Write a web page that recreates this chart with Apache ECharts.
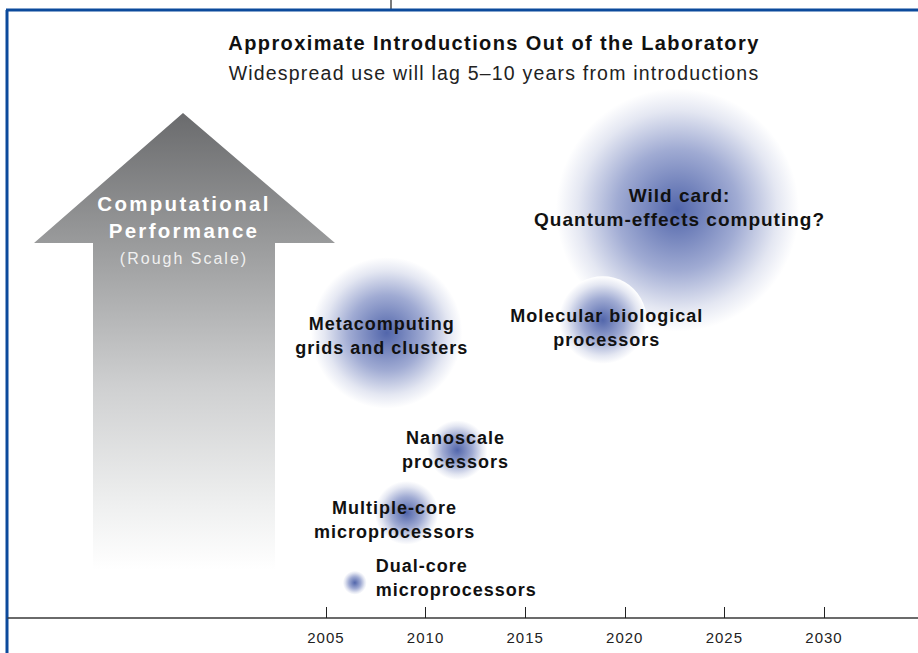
<!DOCTYPE html>
<html>
<head>
    <meta charset="UTF-8">
    <title></title>
    <script type="text/javascript" src="https://cdn.jsdelivr.net/npm/echarts@6/dist/echarts.min.js"></script>
    <style>
        html, body { margin: 0; padding: 0; background: #fff; }
        #main { width: 918px; height: 653px; }
        #main text { letter-spacing: 1px; }
        #main text[style*="bold 20px"] { letter-spacing: 1.4px; }
        #main text[style*="bold 20.5px"] { letter-spacing: 2.3px; }
        #main text[style*="19.5px"] { letter-spacing: 1.2px; }
        #main text[style*="bold 19px"] { letter-spacing: 1.7px; }
        #main text[style*="bold 18px"] { letter-spacing: 1.3px; }
        #main text[style*=" 16px"] { letter-spacing: 2px; }
    </style>
</head>
<body>
<div id="main"></div>
<script>
    // technologies, year of introduction, rough performance level, spread (years)
    var names = [
        'Wild card:\nQuantum-effects computing?',
        'Molecular biological\nprocessors',
        'Metacomputing\ngrids and clusters',
        'Nanoscale\nprocessors',
        'Multiple-core\nmicroprocessors',
        'Dual-core\nmicroprocessors'
    ];
    var years = [2022.65, 2018.9, 2008.05, 2011.6, 2009.05, 2006.45];
    var performance = [67.1, 49.0, 46.9, 27.6, 17.3, 5.8];
    var spread = [6.1, 2.2, 3.8, 1.5, 1.6, 0.6];
    var tickYears = [2005, 2010, 2015, 2020, 2025, 2030];

    var xMin = 1989.04, xMax = 2034.72;
    var gridLeft = 8, gridRight = 0;
    var pxPerYear = (918 - gridLeft - gridRight) / (xMax - xMin);

    // label placement per bubble
    var labelPlace = [
        {position: 'inside', offset: [2, -3], size: 19},
        {position: 'inside', offset: [4, 8]},
        {position: 'inside', offset: [-5, 3]},
        {position: 'inside', offset: [-2, 0]},
        {position: 'inside', offset: [-12, 7]},
        {position: 'right', distance: 9, offset: [0, -5]}
    ];

    var bubbleFill = {
        type: 'radial', x: 0.5, y: 0.5, r: 0.5,
        colorStops: [
            {offset: 0, color: '#5266ab'},
            {offset: 0.5, color: '#a0abd3'},
            {offset: 0.82, color: '#e4e7f2'},
            {offset: 1, color: '#ffffff'}
        ]
    };

    var data = [];
    for (var i = 0; i < names.length; i++) {
        var lp = labelPlace[i];
        data.push({
            name: names[i],
            value: [years[i], performance[i], spread[i]],
            label: {position: lp.position, offset: lp.offset, distance: lp.distance || 5,
                fontSize: lp.size || 18,
                align: lp.position === 'right' ? 'left' : 'center'}
        });
    }

    var font = 'Liberation Sans';
    var chart = echarts.init(document.getElementById('main'), null, {renderer: 'svg'});
    chart.setOption({
        animation: false,
        grid: {left: gridLeft, right: gridRight, top: 10, bottom: 35},
        xAxis: {
            type: 'value', min: xMin, max: xMax,
            splitLine: {show: false},
            axisLine: {lineStyle: {color: '#3a3a3a', width: 1.5}},
            axisTick: {inside: true, length: 11, customValues: tickYears, lineStyle: {color: '#222', width: 1}},
            axisLabel: {customValues: tickYears, margin: 12, color: '#222', fontSize: 15, fontFamily: font,
                formatter: function (v) { return String(v); }}
        },
        yAxis: {type: 'value', min: 0, max: 100, show: false},
        graphic: [
            {type: 'line', shape: {x1: 391, y1: 0, x2: 391, y2: 9}, style: {stroke: '#222', lineWidth: 1.2}},
            {type: 'line', shape: {x1: 6, y1: 10, x2: 918, y2: 10}, style: {stroke: '#0c4a9c', lineWidth: 3}},
            {type: 'line', shape: {x1: 7, y1: 10, x2: 7, y2: 653}, style: {stroke: '#0c4a9c', lineWidth: 3}},
            {
                type: 'polygon', z: 0,
                shape: {points: [[183, 113], [335, 243], [275, 243], [275, 570], [93, 570], [93, 243], [34, 243]]},
                style: {
                    fill: {
                        type: 'linear', x: 0, y: 0, x2: 0, y2: 1,
                        colorStops: [
                            {offset: 0, color: '#6a6b6d'},
                            {offset: 0.28, color: '#999a9b'},
                            {offset: 0.6, color: '#cfd0d1'},
                            {offset: 0.86, color: '#eff0f0'},
                            {offset: 1, color: '#ffffff'}
                        ]
                    }
                }
            },
            {type: 'text', x: 184, y: 203, style: {text: 'Computational', fill: '#fff', font: 'bold 20.5px ' + font, textAlign: 'center', textVerticalAlign: 'middle'}},
            {type: 'text', x: 184, y: 230, style: {text: 'Performance', fill: '#fff', font: 'bold 20.5px ' + font, textAlign: 'center', textVerticalAlign: 'middle'}},
            {type: 'text', x: 184, y: 258, style: {text: '(Rough Scale)', fill: '#f0f0f0', font: '16px ' + font, textAlign: 'center', textVerticalAlign: 'middle'}},
            {type: 'text', x: 494, y: 43, style: {text: 'Approximate Introductions Out of the Laboratory', fill: '#111', font: 'bold 20px ' + font, textAlign: 'center', textVerticalAlign: 'middle'}},
            {type: 'text', x: 494, y: 73, style: {text: 'Widespread use will lag 5\u201310 years from introductions', fill: '#222', font: '19.5px ' + font, textAlign: 'center', textVerticalAlign: 'middle'}}
        ],
        series: [{
            type: 'scatter',
            data: data,
            symbolSize: function (v) { return v[2] * 2 * pxPerYear; },
            itemStyle: {color: bubbleFill, opacity: 1},
            label: {
                show: true,
                formatter: '{b}',
                color: '#111',
                fontFamily: font,
                fontWeight: 'bold',
                fontSize: 18,
                lineHeight: 24
            },
            emphasis: {disabled: true}
        }]
    });
</script>
</body>
</html>
